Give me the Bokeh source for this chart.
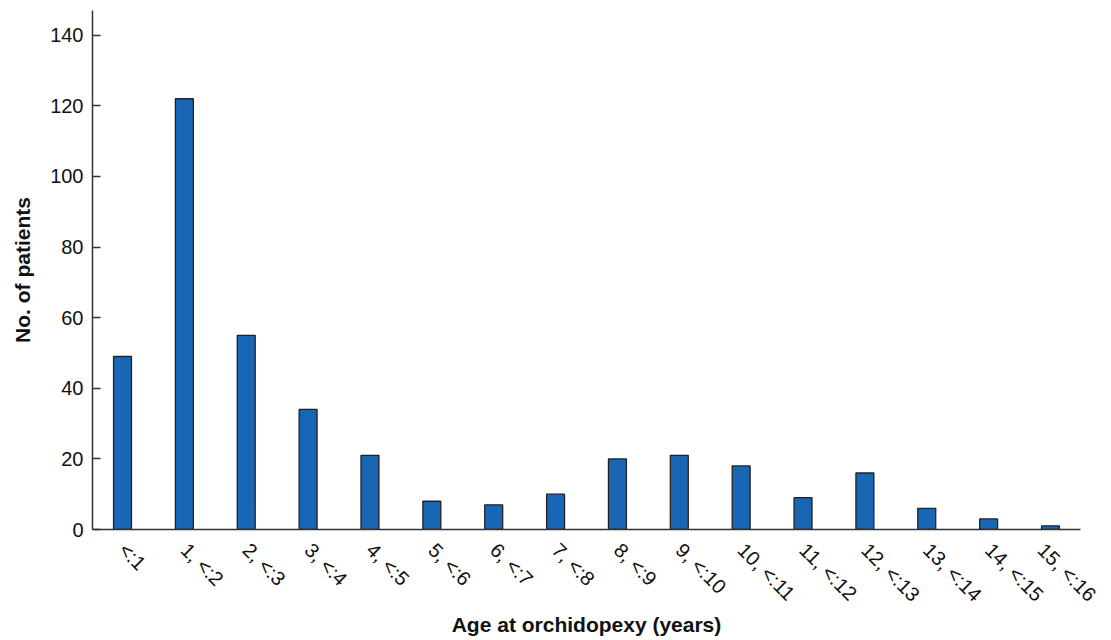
import math
from bokeh.plotting import figure
from bokeh.models import ColumnDataSource, Range1d, FixedTicker
from bokeh.embed import file_html
from bokeh.resources import INLINE

categories = ["<:1", "1, <:2", "2, <:3", "3, <:4", "4, <:5", "5, <:6", "6, <:7", "7, <:8",
              "8, <:9", "9, <:10", "10, <:11", "11, <:12", "12, <:13", "13, <:14", "14, <:15", "15, <:16"]
patients = [49, 122, 55, 34, 21, 8, 7, 10, 20, 21, 18, 9, 16, 6, 3, 1]
y_ticks = [0, 20, 40, 60, 80, 100, 120, 140]
x_title = "Age at orchidopexy (years)"
y_title = "No. of patients"

idx = list(range(len(categories)))
src = ColumnDataSource(dict(x=idx, top=patients))

x_lo, x_hi = -0.485, len(categories) - 1 + 0.485
p = figure(width=1100, height=638, output_backend="svg", toolbar_location=None,
           x_range=Range1d(x_lo, x_hi), y_range=Range1d(0, 147),
           min_border_left=92, min_border_right=20, min_border_top=10, min_border_bottom=5)

p.vbar(x="x", top="top", width=0.29, source=src, fill_color="#1967b4",
       line_color="#222222", line_width=1.3)

p.grid.visible = False
p.outline_line_color = None
p.background_fill_color = "white"

font = "Liberation Sans"

p.xaxis.ticker = FixedTicker(ticks=idx)
p.xaxis.major_label_overrides = {i: c for i, c in zip(idx, categories)}
p.xaxis.major_label_orientation = -math.pi / 4
p.xaxis.minor_tick_line_color = None
p.xaxis.major_tick_line_color = None
p.xaxis.major_label_text_font = font
p.xaxis.major_label_text_font_size = "20px"
p.xaxis.major_label_text_color = "#111111"
p.xaxis.major_label_standoff = 11
p.xaxis.axis_label = x_title
p.xaxis.axis_label_standoff = -4

p.yaxis.ticker = FixedTicker(ticks=y_ticks)
p.yaxis.minor_tick_line_color = None
p.yaxis.major_tick_out = 0
p.yaxis.major_tick_in = 8
p.yaxis.major_tick_line_color = "#333333"
p.yaxis.major_tick_line_width = 1.5
p.yaxis.major_label_text_font = font
p.yaxis.major_label_text_font_size = "20px"
p.yaxis.major_label_text_color = "#111111"
p.yaxis.major_label_standoff = 9
p.yaxis.axis_label = y_title
p.yaxis.axis_label_standoff = 13

for ax in (p.xaxis[0], p.yaxis[0]):
    ax.axis_line_color = "#333333"
    ax.axis_line_width = 1.5
    ax.axis_label_text_font = font
    ax.axis_label_text_font_style = "bold"
    ax.axis_label_text_font_size = "21px"
    ax.axis_label_text_color = "#111111"

open("out.html", "w").write(file_html(p, INLINE))
